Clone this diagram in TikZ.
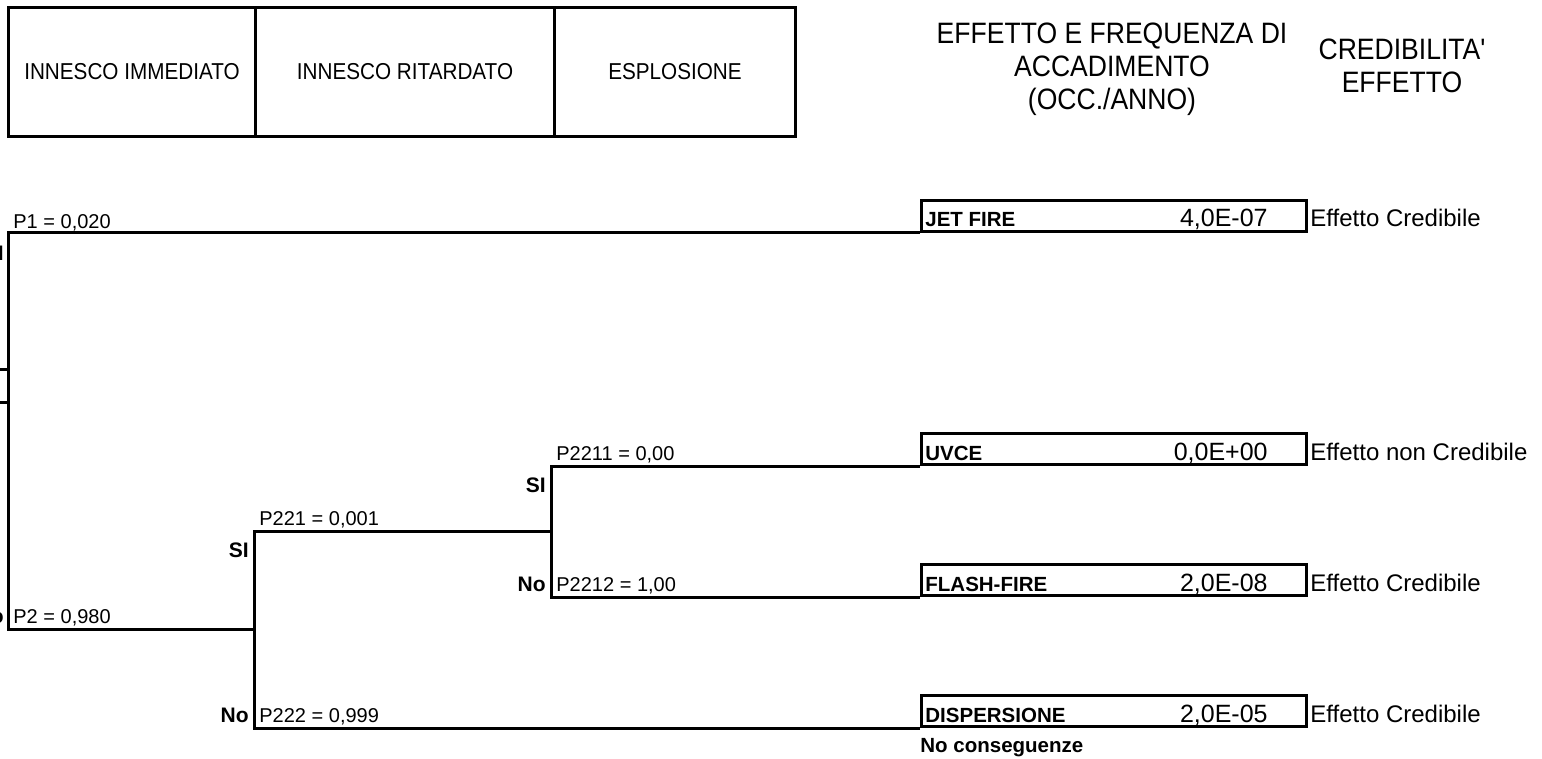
\documentclass[tikz,border=0pt]{standalone}
\usepackage{fontspec}
\setmainfont{Liberation Sans}
\newfontfamily\hdrfont{Liberation Sans}[FakeStretch=0.9,Ligatures=TeXOff]
\begin{document}
\begin{tikzpicture}[x=0.5pt,y=-0.5pt,
  tl/.style={line width=1.5pt},
  hcell/.style={draw,line width=1.5pt,anchor=north west,inner sep=0pt,minimum height=64.5pt,font=\hdrfont\fontsize{11.5}{13}\selectfont},
  ebox/.style={draw,line width=1.5pt,anchor=south west,inner sep=0pt,minimum width=192.5pt,minimum height=15.5pt},
  plbl/.style={anchor=base west,inner sep=0pt,font=\fontsize{10}{12}\selectfont},
  yn/.style={anchor=base east,inner sep=0pt,font=\bfseries\fontsize{10.5}{12}\selectfont},
  ename/.style={anchor=base west,inner sep=0pt,font=\bfseries\fontsize{10.25}{12}\selectfont},
  evalue/.style={anchor=base east,inner sep=0pt,font=\fontsize{12.5}{14}\selectfont},
  eff/.style={anchor=base west,inner sep=0pt,font=\fontsize{12}{14}\selectfont},
  colhead/.style={align=center,inner sep=0pt,font=\hdrfont\fontsize{14.75}{16.5}\selectfont}
]
\useasboundingbox (0,0) rectangle (1542,759);
\clip (0,0) rectangle (1542,759);
% header table
\node[hcell,minimum width=123.5pt] (h1) at (7,6) {INNESCO IMMEDIATO};
\node[hcell,minimum width=149.5pt] (h2) at (254,6) {INNESCO RITARDATO};
\node[hcell,minimum width=120.5pt] (h3) at (553,6) {ESPLOSIONE};
\node[colhead] (freq) at (1112,69) {EFFETTO E FREQUENZA DI\\ACCADIMENTO\\(OCC./ANNO)};
\node[colhead] (cred) at (1402,66) {CREDIBILITA'\\EFFETTO};
% fork points
\coordinate (a0) at (8,233);
\coordinate (a1) at (8,629);
\coordinate (b0) at (254,531);
\coordinate (bm) at (254,629);
\coordinate (b1) at (254,728);
\coordinate (c0) at (551,466);
\coordinate (cm) at (551,531);
\coordinate (c1) at (551,597);
\coordinate (in1) at (0,369);
\coordinate (in1e) at (8,369);
\coordinate (in2) at (0,402);
\coordinate (in2e) at (8,402);
% result boxes
\node[ebox] (jet) at (920,233) {};
\node[ebox] (uvce) at (920,466) {};
\node[ebox] (flash) at (920,597) {};
\node[ebox] (disp) at (920,728) {};
% tree lines
\draw[tl] (in1) -- (in1e);
\draw[tl] (in2) -- (in2e);
\draw[tl] (jet.south west) -- (a0) -- (a1) -- (bm);
\draw[tl] (cm) -- (b0) -- (b1) -- (disp.south west);
\draw[tl] (uvce.south west) -- (c0) -- (c1) -- (flash.south west);
% branch labels
\node[plbl] (p1) at (13,229) {P1 = 0,020};
\node[plbl] (p2) at (13,623) {P2 = 0,980};
\node[plbl] (p221) at (259,525) {P221 = 0,001};
\node[plbl] (p222) at (259,722) {P222 = 0,999};
\node[plbl] (p2211) at (556,460) {P2211 = 0,00};
\node[plbl] (p2212) at (556,591) {P2212 = 1,00};
\node[yn] (ys0) at (4,261) {SI};
\node[yn] (yn0) at (4,623) {No};
\node[yn] (ys1) at (249,557) {SI};
\node[yn] (yn1) at (249,722) {No};
\node[yn] (ys2) at (546,492) {SI};
\node[yn] (yn2) at (546,591) {No};
% outcomes
\node[ename] (t1) at (925,227) {JET FIRE};
\node[evalue] (v1) at (1268,227) {4,0E-07};
\node[eff] (e1) at (1310,227) {Effetto Credibile};
\node[ename] (t2) at (925,460) {UVCE};
\node[evalue] (v2) at (1268,460) {0,0E+00};
\node[eff] (e2) at (1310,460) {Effetto non Credibile};
\node[ename] (t3) at (925,591) {FLASH-FIRE};
\node[evalue] (v3) at (1268,591) {2,0E-08};
\node[eff] (e3) at (1310,591) {Effetto Credibile};
\node[ename] (t4) at (925,722) {DISPERSIONE};
\node[evalue] (v4) at (1268,722) {2,0E-05};
\node[eff] (e4) at (1310,722) {Effetto Credibile};
\node[ename] (nc) at (920,752) {No conseguenze};
\end{tikzpicture}
\end{document}
